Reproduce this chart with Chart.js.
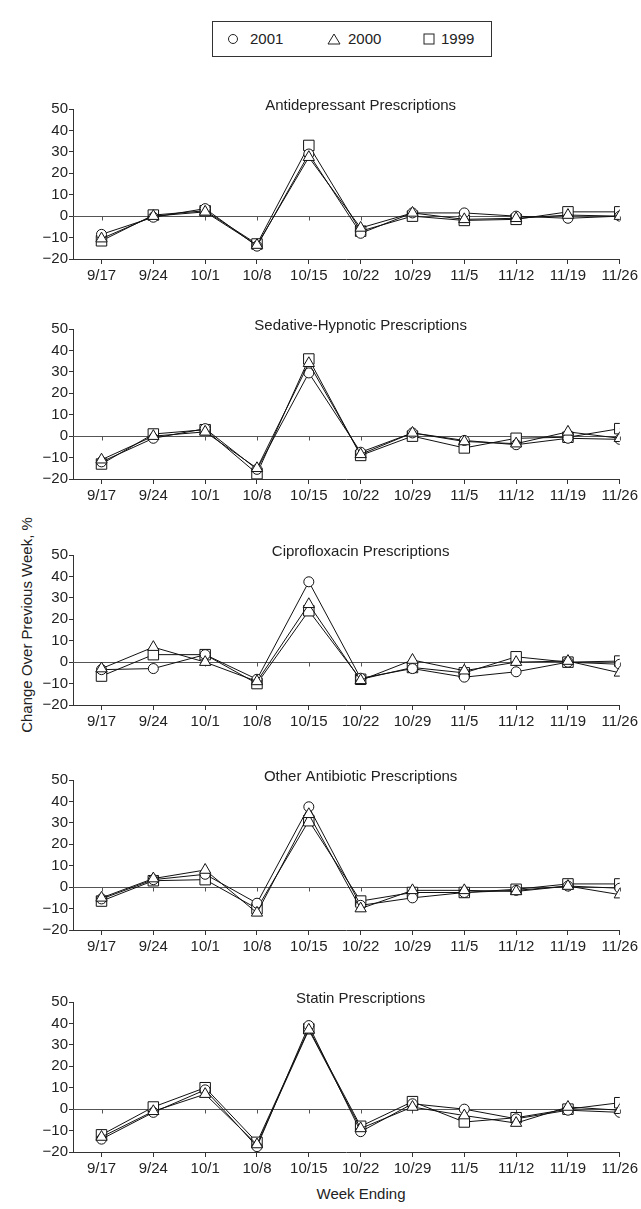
<!DOCTYPE html>
<html>
<head>
<meta charset="utf-8">
<script src="https://cdn.jsdelivr.net/npm/chart.js@4.4.1/dist/chart.umd.min.js"></script>
<style>
  body { margin: 0; background: #fff; font-family: "Liberation Sans", Arial, sans-serif; color: #222; }
  #page { position: relative; width: 641px; height: 1209px; overflow: hidden; }
  canvas.panel { position: absolute; left: 0; }
  #legend { position: absolute; left: 212px; top: 21px; width: 278px; height: 34px; border: 1px solid #333; }
  .item { position: absolute; top: 0; height: 34px; line-height: 34px; font-size: 15px; }
  .item svg { position: absolute; top: 11px; }
  .item span { position: absolute; white-space: nowrap; }
  #ytitle { position: absolute; left: 26px; top: 625px; transform: translate(-50%, -50%) rotate(-90deg); white-space: nowrap; font-size: 15px; }
  #xtitle { position: absolute; left: 361px; top: 1193px; transform: translate(-50%, -50%); white-space: nowrap; font-size: 15px; }
</style>
</head>
<body>
<div id="page">
  <div id="legend">
    <div class="item" style="left:14px">
      <svg width="12" height="12" style="left:0"><circle cx="6" cy="6" r="4.5" fill="#fff" stroke="#222" stroke-width="1"/></svg>
      <span style="left:23px">2001</span>
    </div>
    <div class="item" style="left:114px">
      <svg width="14" height="12" style="left:0"><polygon points="7,1 13,11 1,11" fill="#fff" stroke="#222" stroke-width="1"/></svg>
      <span style="left:21px">2000</span>
    </div>
    <div class="item" style="left:210px">
      <svg width="12" height="12" style="left:0"><rect x="1" y="1" width="10" height="10" fill="#fff" stroke="#222" stroke-width="1"/></svg>
      <span style="left:18px">1999</span>
    </div>
  </div>
  <div id="ytitle">Change Over Previous Week, %</div>
  <canvas class="panel" id="c1" width="641" height="200" style="top:89px"></canvas>
  <canvas class="panel" id="c2" width="641" height="200" style="top:309px"></canvas>
  <canvas class="panel" id="c3" width="641" height="200" style="top:535px"></canvas>
  <canvas class="panel" id="c4" width="641" height="200" style="top:760px"></canvas>
  <canvas class="panel" id="c5" width="641" height="200" style="top:982px"></canvas>
  <div id="xtitle">Week Ending</div>
</div>
<script>
var weeks = ['9/17', '9/24', '10/1', '10/8', '10/15', '10/22', '10/29', '11/5', '11/12', '11/19', '11/26'];
var years = ['2001', '2000', '1999'];

var antidep2001 = [-8.5, -0.5, 3.5, -14, 29, -8, 1.5, 1.5, 0, -1, 0];
var antidep2000 = [-10.5, 0, 2, -13.5, 27.5, -5.5, 1.5, -1.5, -1, 0.5, 0];
var antidep1999 = [-11.5, 0.5, 2.5, -13, 33, -7, 0, -2, -1.5, 2, 2];

var sedative2001 = [-12, -1, 3.5, -15.5, 29.5, -7.5, 1.5, -2, -4, -1, -1.5];
var sedative2000 = [-11, 0, 2, -15, 34, -8.5, 1.5, -2.5, -3.5, 2, -1];
var sedative1999 = [-13, 1, 3, -17.5, 36, -9, 0, -5.5, -1, -0.5, 3.5];

var cipro2001 = [-3.5, -3, 3.5, -8, 37.5, -7.5, -3, -7, -4.5, 0, -1];
var cipro2000 = [-3, 7, 0, -9, 27, -8.5, 1, -4, 0, 0.5, -5];
var cipro1999 = [-6.5, 3.5, 3.5, -10, 24, -8, -2.5, -5, 2.5, 0, 0.5];

var otherAb2001 = [-5.5, 3.5, 6, -7.5, 37.5, -8.5, -5, -2.5, -1.5, 0.5, -0.5];
var otherAb2000 = [-5, 4, 8, -12, 34, -10, -1.5, -1.5, -2, 0.5, -3.5];
var otherAb1999 = [-6.5, 3, 3.5, -10, 31, -6.5, -2.5, -2.5, -1, 1.5, 1.5];

var statin2001 = [-14, -1.5, 9, -17.5, 39, -10.5, 2.5, 0, -4.5, -0.5, -1.5];
var statin2000 = [-13, -1, 7, -16.5, 37, -9, 1, -3, -6.5, 1, -0.5];
var statin1999 = [-12, 1, 10, -15.5, 37.5, -8, 3.5, -6, -4, 0, 3];

var FONT = '"Liberation Sans", Arial, sans-serif';

// zero line with its little ticks, and the panel heading
var panelDecor = {
  id: 'panelDecor',
  beforeDatasetsDraw: function (chart) {
    var ctx = chart.ctx, xs = chart.scales.x, ys = chart.scales.y;
    var y0 = Math.round(ys.getPixelForValue(0)) + 0.5;
    ctx.save();
    ctx.strokeStyle = '#555';
    ctx.lineWidth = 1;
    ctx.beginPath();
    ctx.moveTo(chart.chartArea.left, y0);
    ctx.lineTo(chart.chartArea.right, y0);
    for (var i = 0; i < weeks.length; i++) {
      var x = Math.round(xs.getPixelForValue(i)) + 0.5;
      ctx.moveTo(x, y0);
      ctx.lineTo(x, y0 + 4);
    }
    ctx.stroke();
    ctx.restore();
  },
  afterDraw: function (chart, args, opts) {
    var ctx = chart.ctx;
    ctx.save();
    ctx.fillStyle = '#222';
    ctx.font = '15px ' + FONT;
    ctx.textAlign = 'center';
    ctx.textBaseline = 'middle';
    ctx.fillText(opts.title, chart.scales.x.getPixelForValue(5), chart.chartArea.top - 3.5);
    ctx.restore();
  }
};

function toPoints(arr) {
  return arr.map(function (v, i) { return { x: i, y: v }; });
}

function makePanel(id, title, d2001, d2000, d1999) {
  var base = { borderColor: '#111', borderWidth: 1, pointBackgroundColor: '#fff', pointBorderColor: '#111', pointBorderWidth: 1, fill: false, tension: 0 };
  new Chart(document.getElementById(id), {
    type: 'line',
    data: {
      datasets: [
        Object.assign({}, base, { label: years[0], data: toPoints(d2001), pointStyle: 'circle', pointRadius: 5, order: 1 }),
        Object.assign({}, base, { label: years[1], data: toPoints(d2000), pointStyle: 'triangle', pointRadius: 6.5, order: 0 }),
        Object.assign({}, base, { label: years[2], data: toPoints(d1999), pointStyle: 'rect', pointRadius: 7.4, order: 2 })
      ]
    },
    plugins: [panelDecor],
    options: {
      responsive: false,
      animation: false,
      events: [],
      devicePixelRatio: 1,
      layout: { padding: { top: 20, right: 21, left: 0, bottom: 0 } },
      plugins: {
        legend: { display: false },
        tooltip: { enabled: false },
        panelDecor: { title: title }
      },
      scales: {
        x: {
          type: 'linear',
          min: -0.55,
          max: 10,
          afterBuildTicks: function (s) { s.ticks = weeks.map(function (w, i) { return { value: i }; }); },
          afterFit: function (s) { s.height = 30; },
          grid: { drawOnChartArea: false, tickLength: 5, color: '#333' },
          border: { color: '#333', width: 1 },
          ticks: {
            autoSkip: false, maxRotation: 0, padding: 3, color: '#222',
            font: { size: 15, family: FONT },
            callback: function (v) { return weeks[v]; }
          }
        },
        y: {
          min: -20,
          max: 50,
          afterFit: function (s) { s.width = 73; },
          grid: { drawOnChartArea: false, tickLength: 4, color: '#333' },
          border: { color: '#333', width: 1 },
          ticks: {
            stepSize: 10, padding: 1, color: '#222',
            font: { size: 15, family: FONT },
            callback: function (v) { return v < 0 ? '\u2212' + Math.abs(v) : String(v); }
          }
        }
      }
    }
  });
}

makePanel('c1', 'Antidepressant Prescriptions', antidep2001, antidep2000, antidep1999);
makePanel('c2', 'Sedative-Hypnotic Prescriptions', sedative2001, sedative2000, sedative1999);
makePanel('c3', 'Ciprofloxacin Prescriptions', cipro2001, cipro2000, cipro1999);
makePanel('c4', 'Other Antibiotic Prescriptions', otherAb2001, otherAb2000, otherAb1999);
makePanel('c5', 'Statin Prescriptions', statin2001, statin2000, statin1999);
</script>
</body>
</html>
